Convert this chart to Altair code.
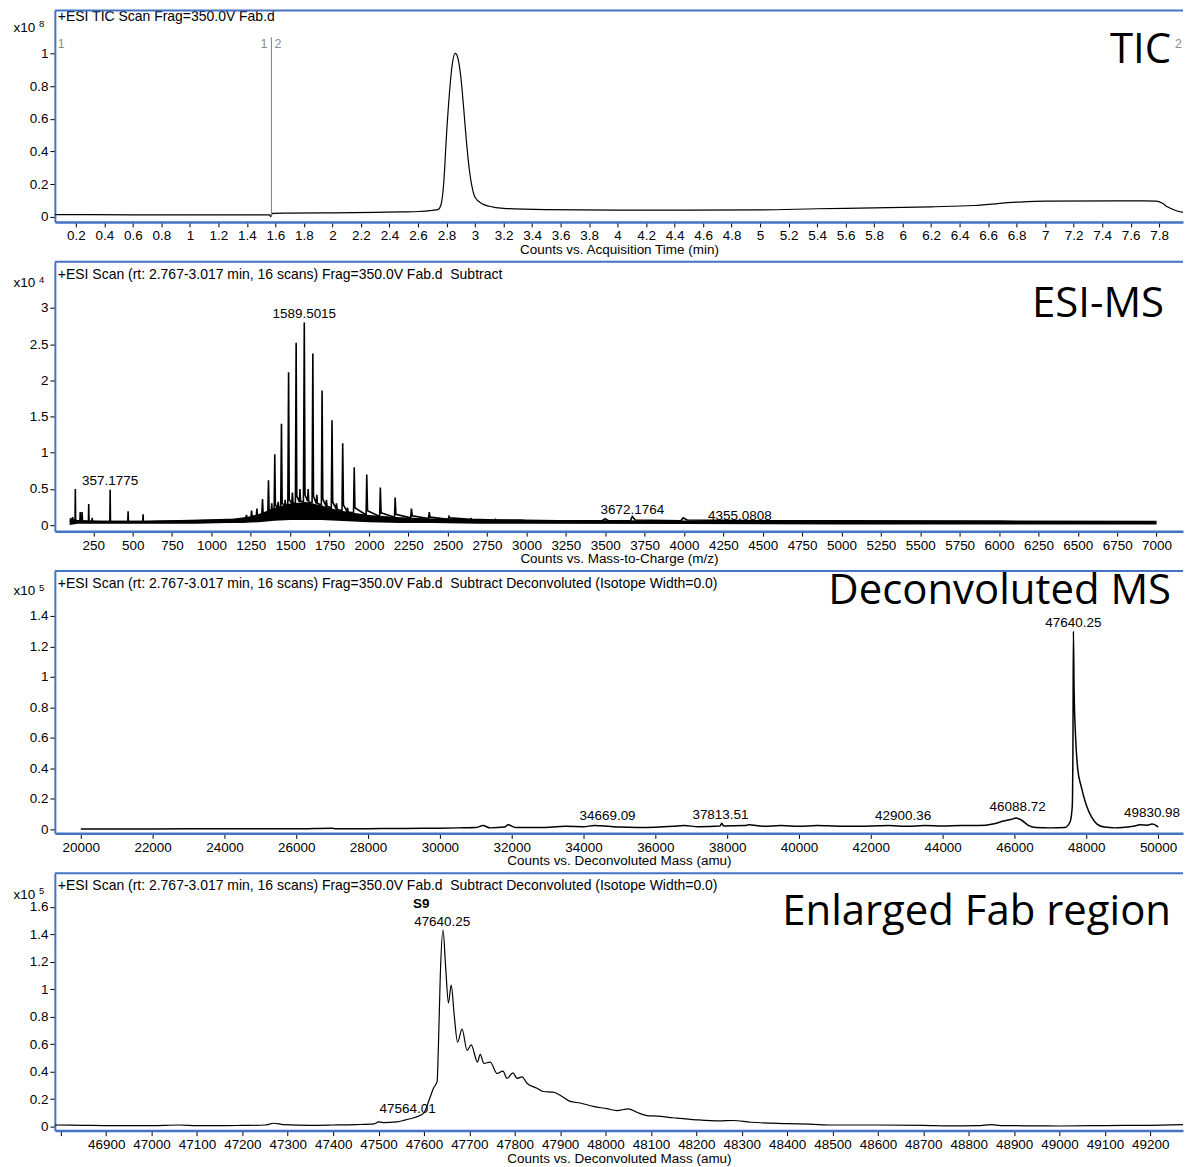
import altair as alt
import pandas as pd

BLUE = "#4472c4"
FONT = "Liberation Sans"
BIG_FONT = "Open Sans"
FS = 13.5
W = 1131

# ---------------- Panel 1: TIC ----------------
tic_time = [0.0525, 0.3, 0.6, 0.9, 1.2, 1.5, 1.56, 1.566, 1.572, 1.58, 1.7, 2.0, 2.3, 2.5,
            2.6, 2.7, 2.74, 2.76, 2.78, 2.8, 2.82, 2.84, 2.86, 2.87, 2.88, 2.9, 2.92, 2.94,
            2.96, 2.98, 3.0, 3.05, 3.1, 3.2, 3.5, 4.0, 4.5, 5.0, 5.4, 5.8, 6.2, 6.5, 6.8,
            7.0, 7.5, 7.78, 7.82, 7.86, 7.92, 7.967]
tic_counts = [0.014, 0.014, 0.013, 0.013, 0.013, 0.012, 0.012, 0.002, 0.012, 0.022, 0.023,
              0.025, 0.028, 0.031, 0.033, 0.04, 0.045, 0.07, 0.2, 0.5, 0.75, 0.93, 1.0,
              0.995, 0.97, 0.86, 0.67, 0.46, 0.29, 0.18, 0.12, 0.08, 0.065, 0.052, 0.045,
              0.042, 0.042, 0.043, 0.05, 0.055, 0.062, 0.07, 0.09, 0.097, 0.098, 0.097,
              0.085, 0.06, 0.038, 0.028]
tic_ticks_x = [0.2, 0.4, 0.6, 0.8, 1, 1.2, 1.4, 1.6, 1.8, 2, 2.2, 2.4, 2.6, 2.8, 3, 3.2,
               3.4, 3.6, 3.8, 4, 4.2, 4.4, 4.6, 4.8, 5, 5.2, 5.4, 5.6, 5.8, 6, 6.2, 6.4,
               6.6, 6.8, 7, 7.2, 7.4, 7.6, 7.8]
tic_ticks_y = [0, 0.2, 0.4, 0.6, 0.8, 1]
tic_marker_time = [1.572]
tic_marker_labels = ["1", "1", "2", "2"]
tic_marker_pos = [0.0525, 1.572, 1.572, 7.967]

# ---------------- Panel 2: ESI-MS ----------------
esi_mz = [100, 112, 119, 121, 134, 136, 138, 165, 167, 169, 177, 179, 181, 219, 221, 223,
          241, 243, 245, 355, 357, 359, 469, 471, 473, 564, 566, 568, 800, 1000, 1150,
          1219, 1222.5, 1226, 1251, 1254.7, 1258, 1285, 1288.6, 1292, 1320, 1324.3, 1328,
          1358, 1362.2, 1366, 1380, 1383, 1386, 1398, 1402.2, 1406, 1420, 1424, 1428,
          1440, 1444.6, 1449, 1465, 1468, 1472, 1485, 1489.8, 1494, 1510, 1514, 1518,
          1533, 1537.8, 1542, 1558, 1562, 1566, 1584, 1589.5, 1594, 1610, 1614, 1618,
          1639, 1643.8, 1648, 1665, 1669, 1673, 1698, 1702.4, 1707, 1726, 1730, 1734,
          1761, 1765.5, 1770, 1790, 1794, 1798, 1829, 1833.3, 1838, 1860, 1864, 1868,
          1902, 1906.6, 1911, 1982, 1986, 1991, 2068, 2072.3, 2077, 2162, 2166.5, 2171,
          2265, 2269.6, 2275, 2378, 2383, 2388, 2503, 2508.4, 2514, 2642, 2647.7, 2654,
          2798, 2803.4, 2810, 2973, 2978.5, 2985, 3200, 3480, 3500, 3520, 3660, 3672,
          3690, 3980, 3995, 4020, 4500, 5000, 6000, 7000]
esi_int = [0.06, 0.05, 0.11, 0.05, 0.05, 0.5, 0.05, 0.05, 0.18, 0.05, 0.05, 0.18, 0.05,
           0.05, 0.29, 0.05, 0.05, 0.1, 0.05, 0.05, 0.49, 0.05, 0.05, 0.19, 0.05, 0.05,
           0.15, 0.05, 0.06, 0.07, 0.08,
           0.1, 0.14, 0.1, 0.11, 0.2, 0.12, 0.13, 0.23, 0.14, 0.15, 0.36, 0.16,
           0.17, 0.62, 0.2, 0.2, 0.3, 0.2, 0.22, 0.98, 0.28, 0.24, 0.32, 0.24,
           0.25, 1.4, 0.3, 0.27, 0.35, 0.27, 0.28, 2.11, 0.35, 0.3, 0.45, 0.3,
           0.3, 2.52, 0.4, 0.32, 0.5, 0.33, 0.32, 2.8, 0.42, 0.33, 0.5, 0.32,
           0.31, 2.37, 0.4, 0.3, 0.42, 0.3, 0.28, 1.86, 0.36, 0.27, 0.35, 0.26,
           0.24, 1.45, 0.32, 0.23, 0.3, 0.22, 0.2, 1.13, 0.28, 0.19, 0.24, 0.18,
           0.17, 0.8, 0.24, 0.14, 0.7, 0.2, 0.12, 0.52, 0.17, 0.11, 0.38, 0.15,
           0.1, 0.23, 0.13, 0.09, 0.18, 0.11, 0.08, 0.12, 0.1, 0.08, 0.09, 0.08,
           0.07, 0.08, 0.07, 0.07, 0.07, 0.065, 0.06, 0.06, 0.09, 0.06, 0.06, 0.12,
           0.07, 0.06, 0.1, 0.07, 0.06, 0.06, 0.055, 0.05]
esi_band_mz = [100, 150, 300, 600, 900, 1100, 1200, 1300, 1400, 1500, 1600, 1700, 1800,
               1900, 2000, 2200, 2400, 2700, 3000, 4000, 5000, 6000, 7000]
esi_band_lo = [0.0, 0.02, 0.02, 0.02, 0.02, 0.03, 0.03, 0.04, 0.06, 0.07, 0.07, 0.07, 0.06,
               0.05, 0.04, 0.03, 0.03, 0.02, 0.02, 0.015, 0.01, 0.01, 0.01]
esi_band_hi = [0.1, 0.07, 0.06, 0.06, 0.07, 0.08, 0.1, 0.15, 0.24, 0.3, 0.32, 0.27, 0.21,
               0.17, 0.14, 0.11, 0.09, 0.08, 0.07, 0.065, 0.06, 0.055, 0.05]
esi_label_text = ["1589.5015", "357.1775", "3672.1764", "4355.0808"]
esi_label_mz = [1589.5, 357.18, 3672.18, 4355.08]
esi_label_y = [2.92, 0.606, 0.207, 0.124]
esi_ticks_x = [250, 500, 750, 1000, 1250, 1500, 1750, 2000, 2250, 2500, 2750, 3000, 3250,
               3500, 3750, 4000, 4250, 4500, 4750, 5000, 5250, 5500, 5750, 6000, 6250,
               6500, 6750, 7000]
esi_ticks_y = [0, 0.5, 1, 1.5, 2, 2.5, 3]

# ---------------- Panel 3: Deconvoluted MS ----------------
dec_mass = [20000, 22000, 24000, 26000, 27000, 27100, 28000, 29000, 30000, 30500, 31000,
            31200, 31400, 31800, 31900, 32100, 32800, 33500, 34000, 34300, 34700, 35000,
            35500, 36000, 36500, 36800, 37200, 37800, 37850, 37900, 38500, 38600, 39000,
            39500, 40000, 40500, 41000, 41500, 42000, 42500, 43000, 43500, 44000, 44500,
            45000, 45400, 45700, 45900, 46050, 46200, 46400, 46600, 47000, 47400, 47550,
            47610, 47630, 47642, 47660, 47700, 47760, 47860, 48000, 48150, 48300, 48500,
            48800, 49000, 49300, 49500, 49700, 49830, 49950, 50000]
dec_int = [0.003, 0.003, 0.004, 0.004, 0.008, 0.004, 0.005, 0.006, 0.008, 0.01, 0.012,
           0.025, 0.01, 0.015, 0.03, 0.012, 0.012, 0.02, 0.018, 0.025, 0.02, 0.015, 0.012,
           0.014, 0.02, 0.025, 0.018, 0.022, 0.04, 0.022, 0.025, 0.03, 0.02, 0.025, 0.02,
           0.025, 0.022, 0.02, 0.022, 0.025, 0.02, 0.025, 0.022, 0.025, 0.025, 0.035,
           0.055, 0.065, 0.075, 0.06, 0.025, 0.012, 0.01, 0.012, 0.05, 0.15, 0.6, 1.3,
           0.93, 0.62, 0.4, 0.28, 0.16, 0.08, 0.035, 0.015, 0.01, 0.012, 0.02, 0.03, 0.028,
           0.035, 0.025, 0.015]
dec_label_text = ["34669.09", "37813.51", "42900.36", "46088.72", "47640.25", "49830.98"]
dec_label_mass = [34669.09, 37813.51, 42900.36, 46088.72, 47640.25, 49830.98]
dec_label_y = [0.085, 0.092, 0.085, 0.144, 1.355, 0.11]
dec_ticks_x = [20000, 22000, 24000, 26000, 28000, 30000, 32000, 34000, 36000, 38000,
               40000, 42000, 44000, 46000, 48000, 50000]
dec_ticks_y = [0, 0.2, 0.4, 0.6, 0.8, 1, 1.2, 1.4]

# ---------------- Panel 4: Enlarged Fab region ----------------
fab_mass = [46786, 46850, 46900, 47000, 47060, 47100, 47150, 47200, 47250, 47270, 47290,
            47350, 47400, 47450, 47490, 47500, 47510, 47540, 47560, 47578, 47590, 47600,
            47611, 47621, 47629, 47632, 47636, 47642, 47648, 47654, 47660, 47667, 47674,
            47684, 47695, 47704, 47718, 47724, 47732, 47746, 47761, 47774, 47783, 47796,
            47805, 47816, 47827, 47849, 47863, 47885, 47904, 47922, 47944, 47973, 48003,
            48025, 48050, 48069, 48091, 48113, 48149, 48200, 48250, 48280, 48320, 48400,
            48450, 48500, 48600, 48700, 48760, 48820, 48850, 48870, 48950, 49000, 49100,
            49200, 49272]
fab_int = [0.012, 0.01, 0.008, 0.008, 0.012, 0.008, 0.007, 0.009, 0.012, 0.025, 0.015,
           0.01, 0.012, 0.015, 0.02, 0.035, 0.03, 0.035, 0.05, 0.065, 0.08, 0.1, 0.19,
           0.28, 0.33, 0.6, 1.1, 1.43, 1.15, 0.9, 1.03, 0.8, 0.615, 0.71, 0.555, 0.595,
           0.47, 0.526, 0.46, 0.47, 0.387, 0.404, 0.351, 0.392, 0.351, 0.363, 0.316, 0.28,
           0.256, 0.251, 0.22, 0.184, 0.172, 0.148, 0.131, 0.117, 0.129, 0.105, 0.081,
           0.077, 0.065, 0.05, 0.042, 0.045, 0.032, 0.022, 0.018, 0.012, 0.012, 0.01,
           0.006, 0.007, 0.015, 0.008, 0.006, 0.005, 0.008, 0.01, 0.015]
fab_label_text = ["47640.25", "47564.01"]
fab_label_mass = [47640.25, 47564.01]
fab_label_y = [1.49, 0.129]
fab_ticks_x = [46800, 46900, 47000, 47100, 47200, 47300, 47400, 47500, 47600, 47700,
               47800, 47900, 48000, 48100, 48200, 48300, 48400, 48500, 48600, 48700,
               48800, 48900, 49000, 49100, 49200]
fab_ticks_y = [0, 0.2, 0.4, 0.6, 0.8, 1, 1.2, 1.4, 1.6]


def x_axis(values, title, hide=None):
    expr = "format(datum.value, '~g')"
    if hide is not None:
        expr = f"datum.value == {hide} ? '' : format(datum.value, '~g')"
    return alt.Axis(values=values, title=title, labelExpr=expr, labelFontSize=FS,
                    labelFont=FONT, labelColor="black", labelPadding=2, labelOverlap=False,
                    labelFlush=False, tickSize=5, tickColor="black", tickWidth=1,
                    domainColor=BLUE, domainWidth=2.5, grid=False, titleFont=FONT,
                    titleFontSize=FS, titleFontWeight="normal", titleColor="black",
                    titlePadding=0)


def y_axis(values, title_y):
    return alt.Axis(values=values, title="x10", format="~g", labelFontSize=FS,
                    labelFont=FONT, labelColor="black", labelPadding=2, tickSize=5,
                    tickColor="black", tickWidth=1, domainColor=BLUE, domainWidth=2,
                    grid=False, titleAngle=0, titleX=-42, titleY=title_y,
                    titleAlign="left", titleBaseline="middle", titleFont=FONT,
                    titleFontSize=FS, titleFontWeight="normal", titleColor="black")


def panel(df, x_scale, y_scale, xa, title_y, expo, height, header, big, big_x, big_y,
          header_y=13, labels=None, band=None, extra=None, width=1.2, smooth=True):
    X = alt.X("x:Q", scale=x_scale, axis=xa)
    Y = alt.Y("y:Q", scale=y_scale, axis=y_axis(title_y[0], title_y[1]))
    layers = []
    if band is not None:
        layers.append(alt.Chart(band).mark_area(color="black", clip=True)
                      .encode(x=X, y=Y, y2="y2:Q"))
    line_kw = dict(color="black", strokeWidth=width, clip=True)
    if smooth:
        line_kw["interpolate"] = "monotone"
    layers.append(alt.Chart(df).mark_line(**line_kw).encode(x=X, y=Y))
    if labels is not None:
        layers.append(alt.Chart(labels).mark_text(font=FONT, fontSize=FS, color="black",
                                                  baseline="middle")
                      .encode(x=X, y=Y, text="t:N"))
    if extra is not None:
        layers.extend(extra(X, Y))
    # exponent of the y-axis multiplier
    layers.append(alt.Chart(pd.DataFrame({"t": [expo]}))
                  .mark_text(font=FONT, fontSize=9.5, color="black", align="left",
                             baseline="middle")
                  .encode(x=alt.value(-16), y=alt.value(title_y[1] - 3), text="t:N"))
    layers.append(alt.Chart(pd.DataFrame({"t": [header]}))
                  .mark_text(font=FONT, fontSize=14, color="black", align="left",
                             baseline="middle")
                  .encode(x=alt.value(3), y=alt.value(header_y), text="t:N"))
    layers.append(alt.Chart(pd.DataFrame({"t": [big]}))
                  .mark_text(font=BIG_FONT, fontSize=42, color="black", align="right",
                             baseline="middle")
                  .encode(x=alt.value(big_x), y=alt.value(big_y), text="t:N"))
    layers.append(alt.Chart(pd.DataFrame({"t": [0]}))
                  .mark_rule(color=BLUE, strokeWidth=2)
                  .encode(x=alt.value(0), x2=alt.value(W), y=alt.value(0)))
    return alt.layer(*layers).properties(width=W, height=height)


# Panel 1
tic_df = pd.DataFrame({"x": tic_time, "y": tic_counts})
tic_xs = alt.Scale(domain=[0.0525, 7.967], nice=False, zero=False)
tic_ys = alt.Scale(domain=[-0.0305, 1.262], nice=False, zero=False)


def tic_extra(X, Y):
    mk = pd.DataFrame({"x": tic_marker_time, "y": [1.098], "y2": [0.0]})
    rule = alt.Chart(mk).mark_rule(color="#808080", strokeWidth=1).encode(x=X, y=Y, y2="y2:Q")
    lab = pd.DataFrame({"x": tic_marker_pos, "t": tic_marker_labels})
    out = [rule]
    specs = [(0, "left", 3), (1, "right", -4), (2, "left", 3), (3, "right", -1)]
    for i, al, dx in specs:
        out.append(alt.Chart(lab.iloc[[i]]).mark_text(font=FONT, fontSize=12.5,
                                                      color="#8c8c8c", align=al, dx=dx,
                                                      baseline="middle")
                   .encode(x=X, y=alt.value(34), text="t:N"))
    return out


p1 = panel(tic_df, tic_xs, tic_ys,
           x_axis(tic_ticks_x, "Counts vs. Acquisition Time (min)"),
           (tic_ticks_y, 17), "8", 212,
           "+ESI TIC Scan Frag=350.0V Fab.d", "TIC", 1119, 40, header_y=7, extra=tic_extra)

# Panel 2
esi_df = pd.DataFrame({"x": esi_mz, "y": esi_int})
esi_band = pd.DataFrame({"x": esi_band_mz, "y": esi_band_hi, "y2": esi_band_lo})
esi_lab = pd.DataFrame({"x": esi_label_mz, "y": esi_label_y, "t": esi_label_text})
p2 = panel(esi_df, alt.Scale(domain=[6, 7168], nice=False, zero=False),
           alt.Scale(domain=[-0.083, 3.637], nice=False, zero=False),
           x_axis(esi_ticks_x, "Counts vs. Mass-to-Charge (m/z)"),
           (esi_ticks_y, 21), "4", 270,
           "+ESI Scan (rt: 2.767-3.017 min, 16 scans) Frag=350.0V Fab.d \u00a0Subtract",
           "ESI-MS", 1112, 42, labels=esi_lab, band=esi_band, width=1.6, smooth=False)

# Panel 3
dec_df = pd.DataFrame({"x": dec_mass, "y": dec_int})
dec_lab = pd.DataFrame({"x": dec_label_mass, "y": dec_label_y, "t": dec_label_text})
p3 = panel(dec_df, alt.Scale(domain=[19278, 50694], nice=False, zero=False),
           alt.Scale(domain=[-0.026, 1.694], nice=False, zero=False),
           x_axis(dec_ticks_x, "Counts vs. Deconvoluted Mass (amu)"),
           (dec_ticks_y, 20), "5", 263,
           "+ESI Scan (rt: 2.767-3.017 min, 16 scans) Frag=350.0V Fab.d \u00a0Subtract "
           "Deconvoluted (Isotope Width=0.0)",
           "Deconvoluted MS", 1119, 20, labels=dec_lab, width=1.5)

# Panel 4
fab_df = pd.DataFrame({"x": fab_mass, "y": fab_int})
fab_lab = pd.DataFrame({"x": fab_label_mass, "y": fab_label_y, "t": fab_label_text})


def fab_extra(X, Y):
    s9 = pd.DataFrame({"x": [47640.25], "y": [1.62], "t": ["S9"]})
    return [alt.Chart(s9).mark_text(font=FONT, fontSize=FS, fontWeight="bold",
                                    color="black", baseline="middle", dx=-21)
            .encode(x=X, y=Y, text="t:N")]


p4 = panel(fab_df, alt.Scale(domain=[46787, 49272], nice=False, zero=False),
           alt.Scale(domain=[-0.0287, 1.844], nice=False, zero=False),
           x_axis(fab_ticks_x, "Counts vs. Deconvoluted Mass (amu)", hide=46800),
           (fab_ticks_y, 21), "5", 258,
           "+ESI Scan (rt: 2.767-3.017 min, 16 scans) Frag=350.0V Fab.d \u00a0Subtract "
           "Deconvoluted (Isotope Width=0.0)",
           "Enlarged Fab region", 1119, 39, labels=fab_lab, extra=fab_extra)

chart = (alt.vconcat(p1, p2, p3, p4, spacing=3)
         .properties(padding={"left": 12, "top": 7, "right": 0, "bottom": 0},
                     background="white")
         .configure_view(stroke="transparent"))

chart.save("out.html", embed_options={"renderer": "svg", "actions": False})
